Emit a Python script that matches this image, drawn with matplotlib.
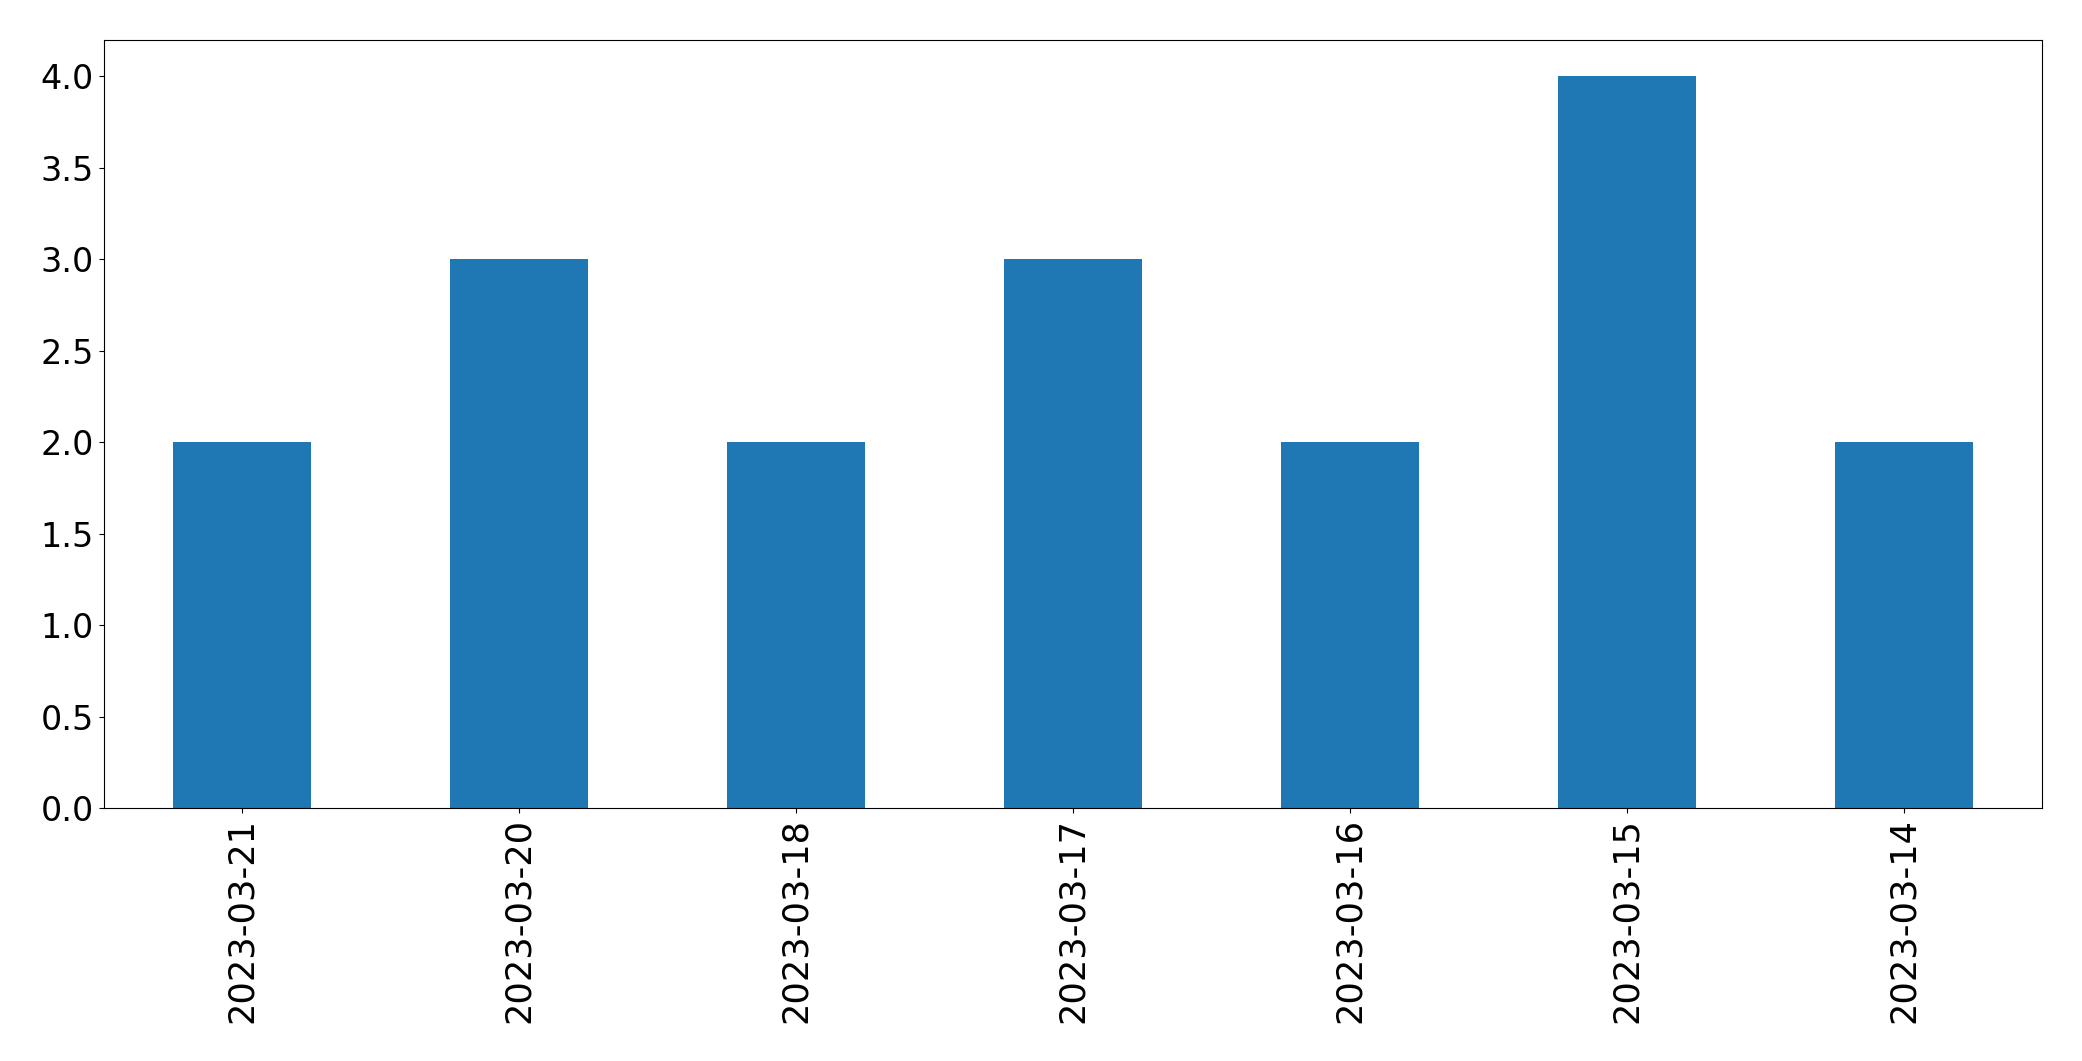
import matplotlib
matplotlib.use("Agg")
import matplotlib.pyplot as plt
import numpy as np

dates = ['2023-03-21', '2023-03-20', '2023-03-18', '2023-03-17',
         '2023-03-16', '2023-03-15', '2023-03-14']
counts = [2, 3, 2, 3, 2, 4, 2]

fig, ax = plt.subplots(figsize=(20.82, 10.61), dpi=100)
fig.subplots_adjust(left=0.0498, right=0.981, top=0.9625, bottom=0.238)

x = np.arange(len(dates))
ax.bar(x, counts, width=0.5, color='#1f77b4')
ax.set_xlim(-0.5, len(dates) - 0.5)
ax.set_xticks(x)
ax.set_xticklabels(dates, rotation=90)
ax.tick_params(axis='x', labelsize=25.3)
ax.tick_params(axis='y', labelsize=24)

fig.savefig('out.png', dpi=100)
